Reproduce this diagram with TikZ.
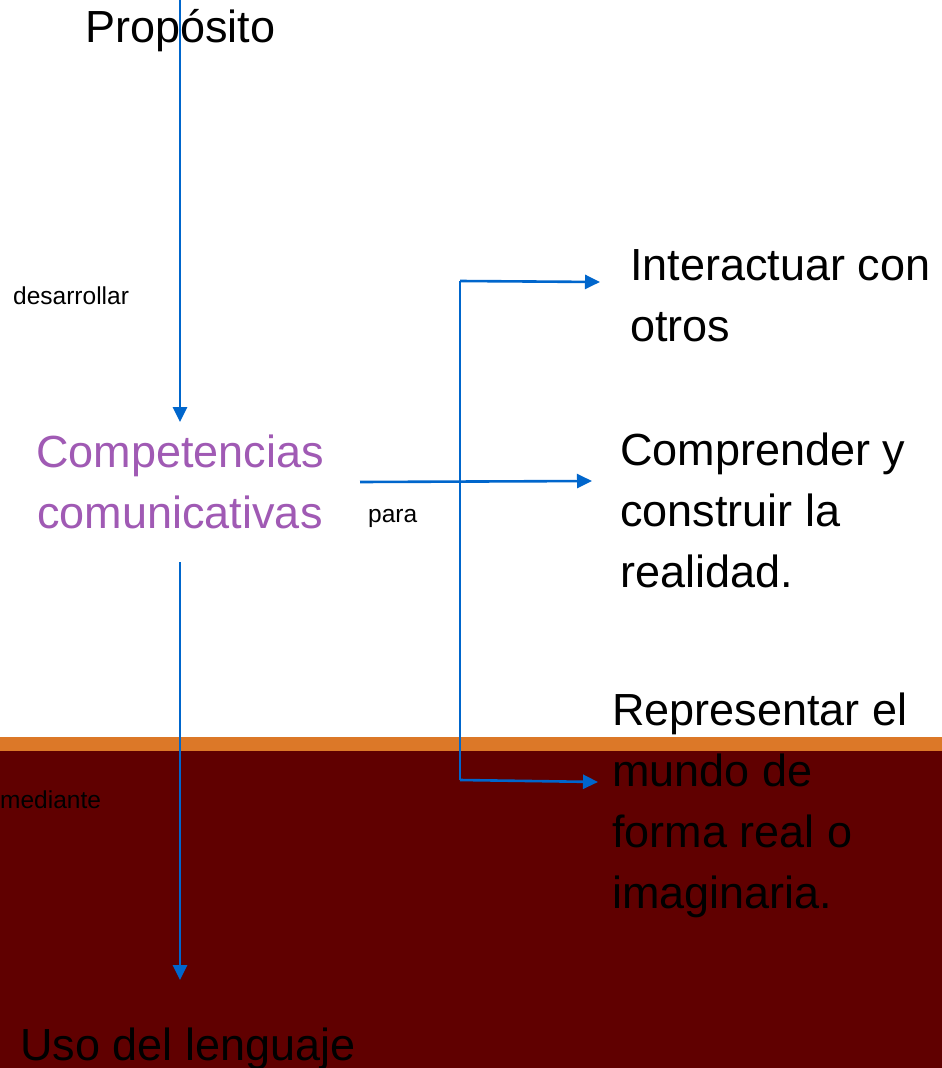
\documentclass[tikz,border=0pt]{standalone}
\usepackage{fontspec}
\setmainfont{Liberation Sans}
\usetikzlibrary{arrows.meta}
\definecolor{arrblue}{HTML}{0066CC}
\definecolor{titlepurple}{HTML}{A05AB4}
\definecolor{bandorange}{HTML}{DC7828}
\definecolor{darkbg}{HTML}{600000}
\tikzset{
  bigtext/.style={font=\fontsize{45}{61}\selectfont, inner sep=0pt, anchor=base west, align=left},
  smalltext/.style={font=\fontsize{24.5}{30}\selectfont, inner sep=0pt, anchor=base west},
  conn/.style={draw=arrblue, line width=2.6pt, -{Triangle[length=15pt,width=14pt]}},
  thinconn/.style={draw=arrblue, line width=1.6pt}
}
\begin{document}
\begin{tikzpicture}[x=1pt,y=-1pt]
\useasboundingbox (0,0) rectangle (942,1068);
% background
\fill[white] (0,0) rectangle (942,737);
\fill[bandorange] (0,737) rectangle (942,751);
\fill[darkbg] (0,751) rectangle (942,1068);
% texts (base anchor = baseline of the last line)
\node[bigtext] (prop) at (85,42) {Propósito};
\node[bigtext, text=titlepurple, align=center, anchor=base] (comp) at (180,528) {Competencias\\comunicativas};
\node[bigtext] (inter) at (630,341) {Interactuar con\\otros};
\node[bigtext] (compr) at (620,587) {Comprender y\\construir la\\realidad.};
\node[bigtext] (repr) at (612,908) {Representar el\\mundo de\\forma real o\\imaginaria.};
\node[bigtext] (uso) at (20,1060) {Uso del lenguaje};
\node[smalltext] (desa) at (13,304) {desarrollar};
\node[smalltext] (para) at (368,522) {para};
\node[smalltext] (medi) at (0,808) {mediante};
% connector points
\coordinate (t0) at (180,0);
\coordinate (t1) at (180,422);
\coordinate (b0) at (180,562);
\coordinate (b1) at (180,980);
\coordinate (h0) at (360,482);
\coordinate (h1) at (592,481);
\coordinate (v0) at (460,281);
\coordinate (v1) at (460,780);
\coordinate (u1) at (600,282);
\coordinate (d1) at (598,782);
% connectors
\draw[conn] (t0) -- (t1);
\draw[conn] (b0) -- (b1);
\draw[conn] (h0) -- (h1);
\draw[thinconn] (v0) -- (v1);
\draw[conn] (v0) -- (u1);
\draw[conn] (v1) -- (d1);
\end{tikzpicture}
\end{document}
